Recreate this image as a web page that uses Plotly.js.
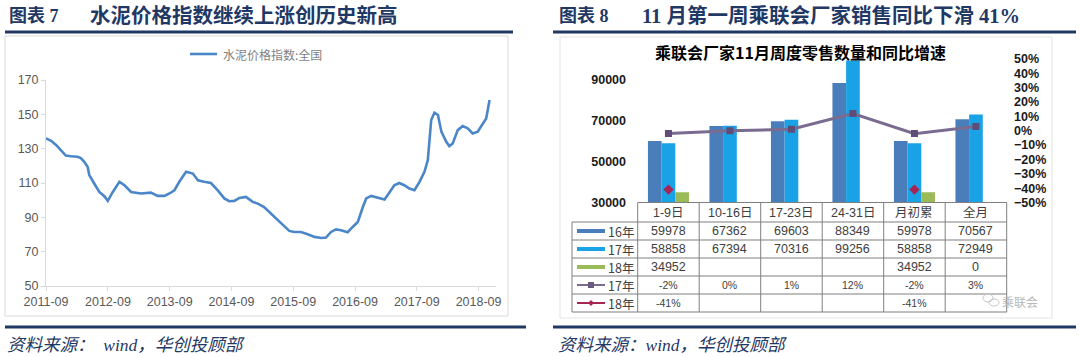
<!DOCTYPE html>
<html>
<head>
<meta charset="utf-8">
<script src="https://cdn.plot.ly/plotly-3.0.1.min.js"></script>
<style>html,body{margin:0;padding:0;background:#fff;}#chart{width:1080px;height:357px;}</style>
</head>
<body>
<div id="chart"></div>
<script>
// ---------- Data: cement price index (left chart) ----------
const cementDates = ['2011-09-01','2011-10-01','2011-11-01','2011-11-28','2011-12-27','2012-01-27','2012-03-05','2012-03-25','2012-04-14','2012-05-04','2012-05-14','2012-06-12','2012-07-12','2012-08-11','2012-08-31','2012-09-30','2012-11-08','2012-12-08','2013-01-16','2013-03-15','2013-05-13','2013-06-22','2013-08-01','2013-08-31','2013-09-29','2013-10-28','2013-12-07','2014-01-16','2014-02-15','2014-03-24','2014-05-03','2014-06-11','2014-07-21','2014-08-19','2014-09-18','2014-10-18','2014-11-26','2015-01-05','2015-02-04','2015-03-13','2015-04-22','2015-06-01','2015-07-10','2015-08-09','2015-09-08','2015-10-17','2015-11-26','2016-01-05','2016-02-13','2016-03-13','2016-04-12','2016-05-11','2016-06-10','2016-07-19','2016-08-18','2016-09-17','2016-10-17','2016-11-06','2016-12-05','2017-01-14','2017-02-22','2017-03-22','2017-04-21','2017-05-20','2017-06-19','2017-07-19','2017-08-18','2017-09-17','2017-10-16','2017-11-05','2017-11-25','2017-12-14','2018-01-04','2018-01-24','2018-02-22','2018-03-12','2018-04-01','2018-05-01','2018-05-30','2018-06-29','2018-07-28','2018-08-27','2018-09-16','2018-10-16','2018-11-05'];
const cementIndex = [136,134.6,132,129,126,125.6,125.3,124.5,122.3,119.4,114.6,109.7,104.8,102.3,99.6,104.8,110.7,108.7,104.8,103.9,104.4,102.5,102.5,103.9,105.8,110.7,116.5,115.5,111.6,110.7,110,105.8,101,99.4,99.6,101.3,101.9,99,98,96,92.2,88.7,84.4,82.1,81.5,81.5,80.1,78.6,78,78.2,81.5,83,82.5,81.3,84.4,87.3,96,101,102.5,101.5,100.4,104.3,108.7,110,108.7,106.8,105.8,110.7,116.5,123.3,146.7,151,149.6,139.9,134,131.5,133,140.8,143.2,141.8,138.9,139.9,143.2,147.6,158.3];
const cementSeriesName = '水泥价格指数:全国';

// ---------- Data: CPCA weekly retail (right chart) ----------
const periods = ['1-9日','10-16日','17-23日','24-31日','月初累','全月'];
const sales16 = [59978,67362,69603,88349,59978,70567];
const sales17 = [58858,67394,70316,99256,58858,72949];
const sales18 = [34952,null,null,null,34952,0];
const growth17 = [-0.02,0.00,0.01,0.12,-0.02,0.03];
const growth18 = [-0.41,null,null,null,-0.41,null];
const rowNames = ['16年','17年','18年','17年','18年'];
const growthText17 = ['-2%','0%','1%','12%','-2%','3%'];
const growthText18 = ['-41%','','','','-41%',''];
const salesTicks = [30000,50000,70000,90000];

// ---------- helpers (pixel -> paper) ----------
const W = 1080, H = 357;
const X = px => px / W;
const Y = py => 1 - py / H;

const navy = '#1f3864';
const c16 = '#4a7ebb', c17 = '#1aa2e6', c18 = '#9bbb59', cG17 = '#7a6b90', cG18 = '#a52653';
const gridCol = '#7f7f7f';
const cjk = 'Noto Sans CJK SC';
const sans = 'Liberation Sans, Noto Sans CJK SC';
const serifCjk = 'Liberation Serif, Noto Sans CJK SC';

const traces = [
  {type:'scatter', mode:'lines', x:cementDates, y:cementIndex, name:cementSeriesName,
   xaxis:'x', yaxis:'y', line:{color:'#4a86c8', width:2.6}, showlegend:false},
  {type:'bar', x:periods, y:sales16, name:'16年', xaxis:'x2', yaxis:'y2', marker:{color:c16}, showlegend:false},
  {type:'bar', x:periods, y:sales17, name:'17年', xaxis:'x2', yaxis:'y2', marker:{color:c17}, showlegend:false},
  {type:'bar', x:periods, y:sales18, name:'18年', xaxis:'x2', yaxis:'y2', marker:{color:c18}, showlegend:false},
  {type:'scatter', mode:'lines+markers', x:periods, y:growth17, name:'17年同比', xaxis:'x2', yaxis:'y3',
   line:{color:cG17, width:3}, marker:{symbol:'square', size:7, color:'#5d4d78'}, showlegend:false},
  {type:'scatter', mode:'lines+markers', x:periods, y:growth18, name:'18年同比', xaxis:'x2', yaxis:'y3',
   line:{color:cG18, width:2}, marker:{symbol:'diamond', size:8, color:cG18}, showlegend:false}
];

const shapes = [];
const annotations = [];
function line(x0,y0,x1,y1,color,width){
  shapes.push({type:'line', xref:'paper', yref:'paper', x0:X(x0), y0:Y(y0), x1:X(x1), y1:Y(y1), line:{color:color, width:width}});
}
function rect(x0,y0,x1,y1,color,width){
  shapes.push({type:'rect', xref:'paper', yref:'paper', x0:X(x0), y0:Y(y0), x1:X(x1), y1:Y(y1), line:{color:color, width:width}, fillcolor:'rgba(0,0,0,0)'});
}
function text(t,x,y,opts){
  opts = opts || {};
  annotations.push({text:t, xref:'paper', yref:'paper', x:X(x), y:Y(y), showarrow:false,
    xanchor:opts.xa || 'center', yanchor:'middle',
    font:Object.assign({family:sans, size:12, color:'#404040'}, opts.font || {})});
}

// headers
text('图表 7', 7, 16, {xa:'left', font:{family:serifCjk, size:18, color:navy, weight:'bold'}});
text('水泥价格指数继续上涨创历史新高', 88, 16, {xa:'left', font:{family:serifCjk, size:20.5, color:navy, weight:'bold'}});
text('图表 8', 557, 16, {xa:'left', font:{family:serifCjk, size:18, color:navy, weight:'bold'}});
text('11 月第一周乘联会厂家销售同比下滑 41%', 640, 16, {xa:'left', font:{family:serifCjk, size:20.5, color:navy, weight:'bold'}});
line(5,32,513,32,navy,3);
line(553,32,1076,32,navy,3);
line(5,327,526,327,navy,3);
line(553,327,1076,327,navy,3);
text('资料来源：  wind，华创投顾部', 5, 345, {xa:'left', font:{family:serifCjk, size:17.5, color:navy, style:'italic'}});
text('资料来源：wind，华创投顾部', 556, 345, {xa:'left', font:{family:serifCjk, size:17.5, color:navy, style:'italic'}});

// frames
rect(5,36,508,316,'#d9d9d9',1);
rect(560,37,1052,318,'#e3e3e3',1);

// left legend
line(190,54,217,54,'#4a86c8',2.6);
text(cementSeriesName, 221, 54, {xa:'left', font:{family:cjk, size:12, color:'#7f7f7f'}});

// right chart title
text('乘联会厂家11月周度零售数量和同比增速', 800, 52, {font:{family:cjk, size:16, color:'#000', weight:'bold'}});

// table
const colX = [637.7,699.2,760.7,822.2,883.7,945.2,1006.7];
const rowY = [202.5,222,240,258,276,294,312];
line(637.7,rowY[0],1006.7,rowY[0],gridCol,1);
for (let i=1;i<rowY.length;i++) line(572,rowY[i],1006.7,rowY[i],gridCol,1);
line(572,222,572,312,gridCol,1);
colX.forEach(cx => line(cx,202.5,cx,312,gridCol,1));
periods.forEach((p,i)=>{
  const cx = (colX[i]+colX[i+1])/2;
  text(p, cx, 212.5, {font:{size:12.5, color:'#404040'}});
  text(String(sales16[i]), cx, 231, {font:{size:12.5}});
  text(String(sales17[i]), cx, 249, {font:{size:12.5}});
  text(sales18[i]===null?'':String(sales18[i]), cx, 267, {font:{size:12.5}});
  text(growthText17[i], cx, 285, {font:{size:10.5}});
  text(growthText18[i], cx, 303, {font:{size:10.5}});
});
// row keys
const keyCols = [c16,c17,c18,cG17,cG18];
rowNames.forEach((r,i)=>{
  const cy = (rowY[i+1]+rowY[i+2])/2;
  if (i<3) line(577,cy,605,cy,keyCols[i],4);
  else line(577,cy,605,cy,keyCols[i],2);
  text(r, 621, cy, {font:{family:cjk, size:12.5, color:'#404040'}});
});
shapes.push({type:'rect', xref:'paper', yref:'paper', x0:X(588), x1:X(594), y0:Y(282), y1:Y(288), fillcolor:'#6a5a80', line:{width:0}});
shapes.push({type:'path', xref:'paper', yref:'paper', path:`M ${X(591)} ${Y(300)} L ${X(594)} ${Y(303)} L ${X(591)} ${Y(306)} L ${X(588)} ${Y(303)} Z`, fillcolor:cG18, line:{width:0}});
// watermark
text('乘联会', 1020, 301, {font:{family:cjk, size:12, color:'#b8b8b8'}});
shapes.push({type:'circle', xref:'paper', yref:'paper', x0:X(983), x1:X(993), y0:Y(294), y1:Y(302), line:{color:'#c8c8c8', width:1}});
shapes.push({type:'circle', xref:'paper', yref:'paper', x0:X(989), x1:X(999), y0:Y(299), y1:Y(306), line:{color:'#c8c8c8', width:1}});

const layout = {
  width: W, height: H,
  margin:{l:0, r:0, t:0, b:0},
  paper_bgcolor:'#fff', plot_bgcolor:'rgba(0,0,0,0)',
  showlegend:false,
  barmode:'group', bargap:0.333, bargroupgap:0,
  xaxis:{domain:[X(46), X(496)], anchor:'y', type:'date', range:['2011-09-01','2018-12-13'],
    tick0:'2011-09-01', dtick:'M12', tickformat:'%Y-%m', ticks:'outside', ticklen:4, tickcolor:'#d9d9d9',
    showline:true, linecolor:'#d9d9d9', showgrid:false, zeroline:false,
    tickfont:{family:sans, size:12.5, color:'#595959'}},
  yaxis:{domain:[Y(286), Y(80)], anchor:'x', range:[50,170], tickvals:[50,70,90,110,130,150,170],
    ticks:'outside', ticklen:4, tickcolor:'#d9d9d9', showline:true, linecolor:'#d9d9d9',
    showgrid:false, zeroline:false, tickfont:{family:sans, size:12.5, color:'#595959'}},
  xaxis2:{domain:[X(637.7), X(1006.7)], anchor:'y2', type:'category', categoryarray:periods,
    showticklabels:false, showline:false, showgrid:false, zeroline:false, ticks:''},
  yaxis2:{domain:[Y(202.5), Y(59)], anchor:'free', position:X(626), range:[30000,100000],
    tickvals:salesTicks, ticktext:salesTicks.map(String), showline:false, showgrid:false, zeroline:false, ticks:'',
    tickfont:{family:sans, size:12.5, color:'#1a1a1a', weight:'bold'}},
  yaxis3:{domain:[Y(202.5), Y(59)], overlaying:'y2', side:'right', anchor:'free', position:X(1013),
    range:[-0.5,0.5], dtick:0.1, tickformat:'.0%', showline:false, showgrid:false, zeroline:false, ticks:'',
    tickfont:{family:sans, size:12.5, color:'#1a1a1a', weight:'bold'}},
  shapes: shapes,
  annotations: annotations
};

Plotly.newPlot('chart', traces, layout, {staticPlot:true, displayModeBar:false});
</script>
</body>
</html>
